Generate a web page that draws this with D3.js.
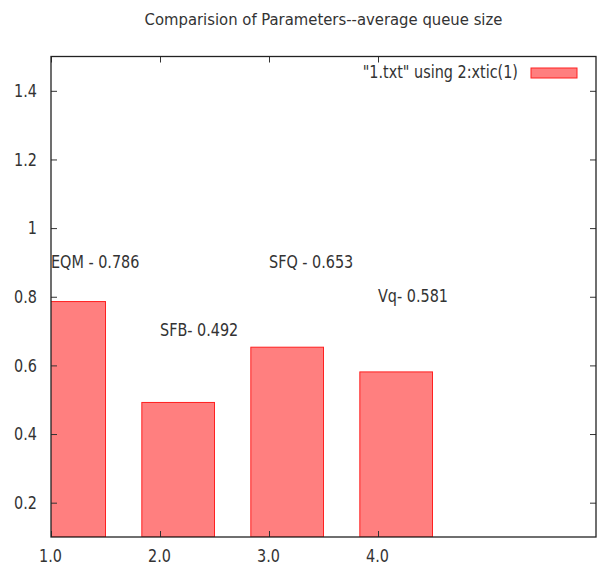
<!DOCTYPE html>
<html>
<head>
<meta charset="utf-8">
<script src="https://cdn.jsdelivr.net/npm/d3@7"></script>
<style>
  html, body { margin: 0; padding: 0; background: #fff; }
  svg text { font-family: "DejaVu Sans Condensed", "DejaVu Sans", sans-serif; font-stretch: condensed; fill: #333; }
</style>
</head>
<body>
<svg id="chart" width="600" height="566"></svg>
<script>
// Average queue size per queueing discipline
const categories = ["1.0", "2.0", "3.0", "4.0"];
const values = [0.786, 0.492, 0.653, 0.581];
const labelTexts = ["EQM - 0.786", "SFB- 0.492", "SFQ - 0.653", "Vq- 0.581"];
const labelY = [0.9, 0.7, 0.9, 0.8];
const yTicks = [0.2, 0.4, 0.6, 0.8, 1, 1.2, 1.4];
const legendText = "\"1.txt\" using 2:xtic(1)";
const titleText = "Comparision of Parameters--average queue size";

const svg = d3.select("#chart");
const plotL = 51, plotR = 596, plotT = 56.5, plotB = 537;

const x = d3.scaleLinear().domain([0, 5]).range([plotL, plotR]);
const y = d3.scaleLinear().domain([0.1, 1.5]).range([plotB, plotT]);

// narrower glyphs for the body text, anchored on the given side
function narrow(sel, origin) {
  sel.style("transform-box", "fill-box")
     .style("transform-origin", origin)
     .style("transform", "scaleX(0.89)");
}

// bars span from i - 1/6 to i + 1/2 on the index axis, clipped to the plot
svg.append("defs").append("clipPath").attr("id", "plotClip")
  .append("rect").attr("x", plotL).attr("y", plotT).attr("width", plotR - plotL).attr("height", plotB - plotT);

svg.append("g").attr("clip-path", "url(#plotClip)")
  .selectAll("rect").data(values).join("rect")
  .attr("x", (d, i) => x(i - 1/6))
  .attr("width", x(2/3) - x(0))
  .attr("y", d => y(d))
  .attr("height", d => y(0.1) - y(d))
  .attr("fill", "#ff7f7f")
  .attr("stroke", "#ff2020")
  .attr("stroke-width", 1);

// y axis (left) with inward ticks and mirrored ticks on the right
const yAxis = d3.axisLeft(y).tickValues(yTicks).tickSize(-6).tickPadding(14)
  .tickFormat(d => d3.format("")(d));
const gy = svg.append("g").attr("transform", `translate(${plotL},0)`).call(yAxis);
gy.select(".domain").remove();
gy.selectAll("line").attr("stroke", "#333");
gy.selectAll("text").style("font-size", "18px").attr("fill", "#333").call(narrow, "right center");

const gyr = svg.append("g").attr("transform", `translate(${plotR},0)`)
  .call(d3.axisRight(y).tickValues(yTicks).tickSize(-6).tickFormat(""));
gyr.select(".domain").remove();
gyr.selectAll("line").attr("stroke", "#333");

// x axis labels from the category column
const gx = svg.append("g").attr("transform", `translate(0,${plotB})`)
  .call(d3.axisBottom(x).tickValues(d3.range(categories.length)).tickSize(-6).tickPadding(12)
    .tickFormat(i => categories[i]));
gx.select(".domain").remove();
gx.selectAll("line").attr("stroke", "#333");
gx.selectAll("text").style("font-size", "18px").attr("fill", "#333").attr("dx", "-1").call(narrow, "center");

const gxt = svg.append("g").attr("transform", `translate(0,${plotT})`)
  .call(d3.axisTop(x).tickValues(d3.range(categories.length)).tickSize(-6).tickFormat(""));
gxt.select(".domain").remove();
gxt.selectAll("line").attr("stroke", "#333");

// plot border
svg.append("rect")
  .attr("x", plotL).attr("y", plotT)
  .attr("width", plotR - plotL).attr("height", plotB - plotT)
  .attr("fill", "none").attr("stroke", "#222").attr("stroke-width", 1.3);

// value labels
svg.append("g").selectAll("text").data(labelTexts).join("text")
  .attr("x", (d, i) => x(i))
  .attr("y", (d, i) => y(labelY[i]))
  .attr("dy", "0.3em")
  .style("font-size", "18px")
  .text(d => d)
  .call(narrow, "left center");

// title
svg.append("text")
  .attr("x", (plotL + plotR) / 2)
  .attr("y", 25)
  .attr("text-anchor", "middle")
  .style("font-size", "16.5px")
  .text(titleText);

// legend
const legend = svg.append("g");
legend.append("text")
  .attr("x", 518).attr("y", 78)
  .attr("text-anchor", "end")
  .style("font-size", "18px")
  .text(legendText)
  .call(narrow, "right center");
legend.append("rect")
  .attr("x", 531).attr("y", 68).attr("width", 46).attr("height", 10)
  .attr("fill", "#ff7f7f").attr("stroke", "#ff2020").attr("stroke-width", 1);
</script>
</body>
</html>
